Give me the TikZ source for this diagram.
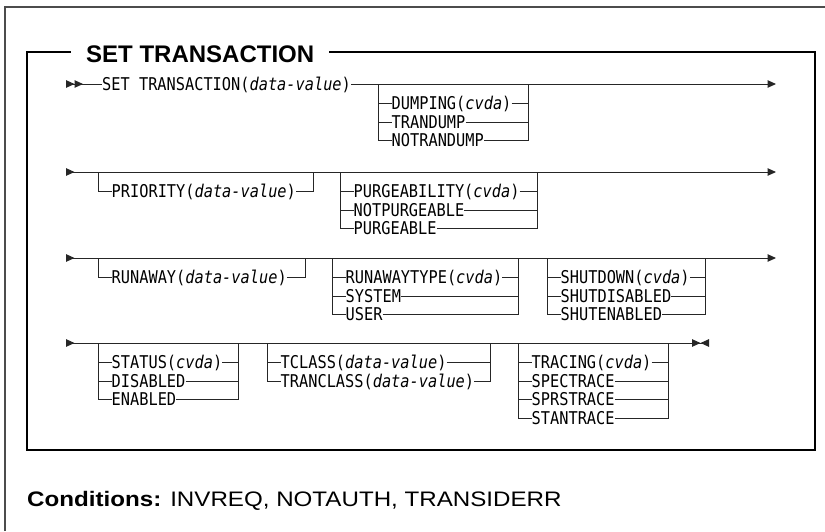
\documentclass[tikz,border=0pt]{standalone}
\usepackage{fontspec}
\setmonofont{DejaVu Sans Mono}
\newfontfamily\helv{Liberation Sans}
\usetikzlibrary{arrows.meta}

\tikzset{
  rail/.style={line width=1pt, black!85},
  frame/.style={line width=1.2pt, black!70},
  item/.style={font=\ttfamily\fontsize{15.3}{18}\selectfont, anchor=west,
    inner sep=0pt, text height=12.8pt, text depth=0pt},
  title/.style={font=\helv\bfseries\fontsize{24}{28}\selectfont, fill=white,
    anchor=west, inner xsep=15pt, inner ysep=0pt, text height=17pt, text depth=0pt},
  railend/.tip={Triangle[length=8.5pt,width=7.5pt]},
  railstart/.tip={Triangle[length=8.5pt,width=7.5pt,reversed]},
}

% tall narrow mono text
\newcommand{\tall}[1]{\scalebox{1}[1.15]{#1}}

% one stack of choices hanging under a main line
\newcommand{\optbox}[5]{%
  \foreach \txt [count=\k] in {#5} {%
    \pgfmathsetmacro{\yy}{#4+19.5+18.5*(\k-1)}
    \node[item] (#1-\k) at (#2+13.5,\yy) {\tall{\txt}};
    \draw[rail] (#2,\yy) -- (#1-\k.west);
    \draw[rail] (#1-\k.east) -- (#3,\yy);
    \xdef\lastk{\k}
  }
  \draw[rail] (#2,#4) |- (#1-\lastk.west);
  \draw[rail] (#3,#4) |- (#1-\lastk.east);
}

\begin{document}
\begin{tikzpicture}[x=1pt, y=-1pt]
    \useasboundingbox (0,0) rectangle (825,531);
    \draw[frame] (5,531) -- (5,7) -- (825,7);
    \draw[line width=1.5pt] (27,52) rectangle (815,450);
    \node[title] (ttl) at (71,53.5) {SET TRANSACTION};

    % row 1
    \node[item] (settx) at (102,84) {\tall{SET TRANSACTION(\textit{data-value})}};
    \draw[rail, {railstart[] railstart[]}-] (66,84) -- (settx.west);
    \draw[rail, -{railend[]}] (settx.east) -- (776,84);
    \optbox{dump}{378}{528}{84}{DUMPING(\textit{cvda}), TRANDUMP, NOTRANDUMP}

    % row 2
    \draw[rail, {railstart[]}-{railend[]}] (66,172) -- (776,172);
    \optbox{prio}{98}{313}{172}{PRIORITY(\textit{data-value})}
    \optbox{purge}{340}{537}{172}{PURGEABILITY(\textit{cvda}), NOTPURGEABLE, PURGEABLE}

    % row 3
    \draw[rail, {railstart[]}-{railend[]}] (66,258) -- (776,258);
    \optbox{runaway}{98}{305}{258}{RUNAWAY(\textit{data-value})}
    \optbox{rtype}{332}{518}{258}{RUNAWAYTYPE(\textit{cvda}), SYSTEM, USER}
    \optbox{shut}{547}{705}{258}{SHUTDOWN(\textit{cvda}), SHUTDISABLED, SHUTENABLED}

    % row 4
    \draw[rail, {railstart[]}-{railend[] railstart[]}] (66,343) -- (709,343);
    \optbox{status}{98}{238}{343}{STATUS(\textit{cvda}), DISABLED, ENABLED}
    \optbox{tclass}{267}{490}{343}{TCLASS(\textit{data-value}), TRANCLASS(\textit{data-value})}
    \optbox{trace}{518}{668}{343}{TRACING(\textit{cvda}), SPECTRACE, SPRSTRACE, STANTRACE}

    \node[anchor=base west, inner sep=0pt] (cond) at (27,506)
      {\scalebox{1.15}[1]{\helv\fontsize{21}{24}\selectfont\textbf{Conditions:} INVREQ, NOTAUTH, TRANSIDERR}};
\end{tikzpicture}
\end{document}
